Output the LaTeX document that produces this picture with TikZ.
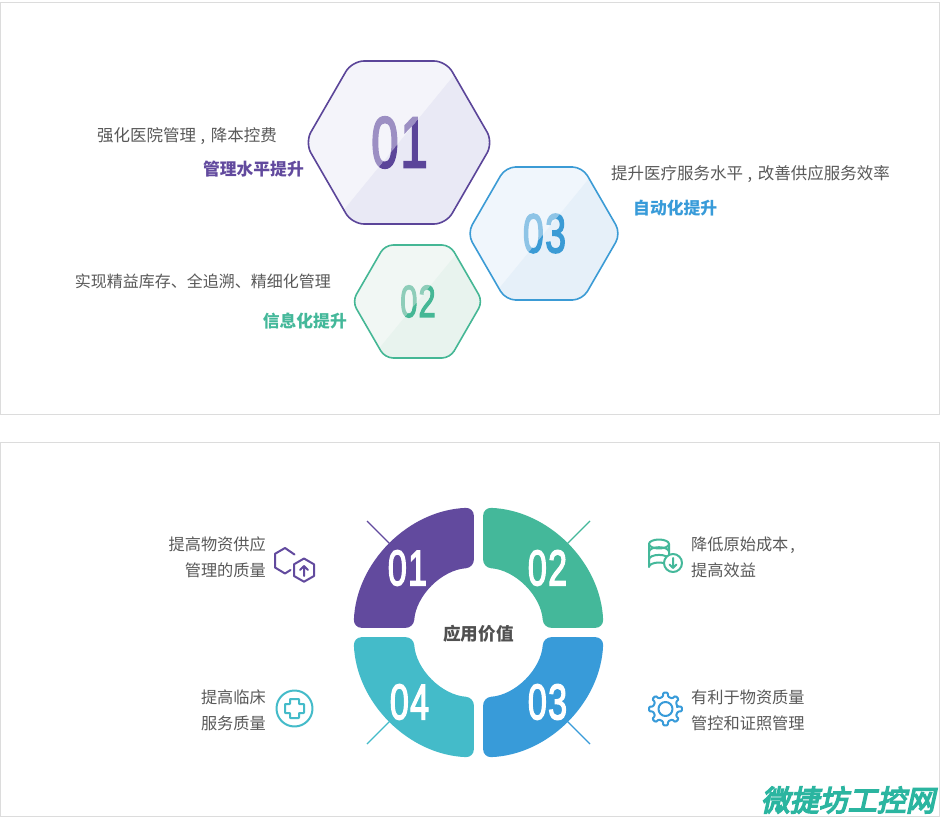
\documentclass[tikz,border=0pt]{standalone}
\usepackage{fontspec}
\newfontfamily\cjk{Noto Sans CJK SC}
\newfontfamily\wmfont[FakeSlant=0.22,FakeBold=5]{Noto Sans CJK SC}
\newfontfamily\numfont[FakeBold=3.2,LetterSpace=4]{Liberation Sans}
\definecolor{textgray}{HTML}{595959}
\definecolor{framegray}{HTML}{DCDCDC}
\definecolor{ringA}{HTML}{624A9E}
\definecolor{ringB}{HTML}{44B89A}
\definecolor{ringC}{HTML}{389BD9}
\definecolor{ringD}{HTML}{44BBC9}
\definecolor{markteal}{HTML}{2BB5A0}
\definecolor{ringAline}{HTML}{5B4599}\definecolor{ringAlight}{HTML}{F4F4FA}\definecolor{ringAdark}{HTML}{E9E9F5}\definecolor{ringAfaint}{HTML}{9C8FC3}
\definecolor{ringBline}{HTML}{45B795}\definecolor{ringBlight}{HTML}{F1F7F4}\definecolor{ringBdark}{HTML}{E8F3EE}\definecolor{ringBfaint}{HTML}{8ECDB9}
\definecolor{ringCline}{HTML}{3B9BD5}\definecolor{ringClight}{HTML}{F0F6FC}\definecolor{ringCdark}{HTML}{E6F0F9}\definecolor{ringCfaint}{HTML}{8EC4E6}
\newcommand{\hexpath}{(\cx,\cy-.866*\rad) -- (\cx+.5*\rad,\cy-.866*\rad) -- (\cx+\rad,\cy) -- (\cx+.5*\rad,\cy+.866*\rad) -- (\cx-.5*\rad,\cy+.866*\rad) -- (\cx-\rad,\cy) -- (\cx-.5*\rad,\cy-.866*\rad) -- cycle}
\newcommand{\midcomma}{\kern4.5pt,\kern5.5pt}
\tikzset{
    body/.style={font=\cjk\fontsize{16.2}{26}\selectfont, text=textgray, inner sep=0pt},
    lead/.style={font=\cjk\fontsize{16.5}{26}\selectfont, text=textgray, inner sep=0pt},
    headline/.style={font=\cjk\bfseries\fontsize{16.8}{20}\selectfont, inner sep=0pt},
    hexnum/.style={font=\numfont\fontsize{#1}{#1}\selectfont, xscale=.68, inner sep=0pt},
    ringnum/.style={font=\numfont\fontsize{50}{50}\selectfont, xscale=.68, text=white, inner sep=0pt},
    icon/.style={line width=2pt, line join=round, line cap=round}
}
\begin{document}
\begin{tikzpicture}[x=1pt, y=-1pt]
    \useasboundingbox (0,0) rectangle (940,821);
    \fill[white] (0,0) rectangle (940,821);
    \draw[framegray, line width=.8pt] (.5,2.5) rectangle (939.5,414.5);
    \draw[framegray, line width=.8pt] (.5,442.5) rectangle (939.5,816.5);

    % upper panel
    \foreach \cx/\cy/\rad/\cor/\n/\num/\size in {399/142.5/94.1/12pt/ringA/01/72, 544/233.5/76.8/10pt/ringC/03/55, 417.5/301.5/65.2/8pt/ringB/02/45}{
        \fill[\n light, rounded corners=\cor] \hexpath;
        \node[hexnum=\size, text=\n faint] (num\n) at (\cx+.5,\cy) {\num};
        \begin{scope}
            \clip (\cx+.9*\rad,\cy-1.1*\rad) -- (\cx+2*\rad,\cy-1.1*\rad) -- (\cx+2*\rad,\cy+1.1*\rad) -- (\cx-.9*\rad,\cy+1.1*\rad) -- cycle;
            \fill[\n dark, rounded corners=\cor] \hexpath;
            \node[hexnum=\size, text=\n line] (numdark\n) at (\cx+.5,\cy) {\num};
        \end{scope}
        \draw[\n line, line width=1.6pt, rounded corners=\cor] \hexpath;
    }
    \node[lead, anchor=east] (texta) at (277,136.5) {强化医院管理\midcomma 降本控费};
    \node[headline, anchor=east, text=ringA] (heada) at (304,169) {管理水平提升};
    \node[body, anchor=east, font=\cjk\fontsize{16}{26}\selectfont] (textb) at (331,281) {实现精益库存、全追溯、精细化管理};
    \node[headline, anchor=east, text=ringB] (headb) at (347,321) {信息化提升};
    \node[lead, anchor=west] (textc) at (611,174.5) {提升医疗服务水平\midcomma 改善供应服务效率};
    \node[headline, anchor=west, text=ringC] (headc) at (633,208) {自动化提升};

    % lower panel
    \foreach \sx/\sy/\n in {-1/-1/ringA, 1/-1/ringB, 1/1/ringC, -1/1/ringD}{
        \begin{scope}[shift={(478.5,632.5)}, xscale=\sx, yscale=\sy]
            \coordinate (rayend\n) at (111.5,111.5);
            \coordinate (raystart\n) at (85,85);
            \draw[\n, line width=1.2pt] (rayend\n) -- (raystart\n);
            \fill[\n, rounded corners=8pt] (96,4.7) -- (2.14:125) arc[start angle=2.14, end angle=87.86, radius=125]
                -- (85.92:65) arc[start angle=85.92, end angle=4.08, radius=65] -- cycle;
        \end{scope}
    }
    \node[ringnum] (numa) at (407.5,568) {01};
    \node[ringnum] (numb) at (547.5,568) {02};
    \node[ringnum] (numc) at (547.5,702) {03};
    \node[ringnum] (numd) at (409.5,702) {04};
    \node[font=\cjk\bfseries\fontsize{17.6}{20}\selectfont, text=textgray!90!black, inner sep=0pt] (center) at (478.5,634) {应用价值};

    \node[body, anchor=east, align=right] (notea) at (266,557) {提高物资供应\\管理的质量};
    \node[body, anchor=east, align=right] (noted) at (266,710) {提高临床\\服务质量};
    \node[body, anchor=west, align=left] (noteb) at (691,557) {降低原始成本\kern2pt,\\提高效益};
    \node[body, anchor=west, align=left] (notec) at (691,710) {有利于物资质量\\管控和证照管理};

    % hexagon icon
    \draw[ringA, icon] (294.5,554.5) -- (285,548) -- (275,553.8) -- (275,567.5) -- (285,573.5) -- (290.5,570);
    \draw[ringA, icon] (304,558.5) -- (314,564.3) -- (314,576) -- (304,581.7) -- (294,576) -- (294,564.3) -- cycle;
    \draw[ringA, icon] (304,576) -- (304,566) (300,570) -- (304,566) -- (308,570);

    % database icon
    \draw[ringB, icon] (649,544) arc[start angle=180, end angle=-180, x radius=10, y radius=4.5];
    \draw[ringB, icon] (649,544) -- (649,567) arc[start angle=180, end angle=360, x radius=10, y radius=4.5] -- (669,544);
    \draw[ringB, icon] (649,551.7) arc[start angle=180, end angle=360, x radius=10, y radius=4.5];
    \draw[ringB, icon] (649,559.4) arc[start angle=180, end angle=360, x radius=10, y radius=4.5];
    \draw[ringB, icon, fill=white] (673,563) circle[radius=9];
    \draw[ringB, icon] (673,558) -- (673,568) (669.5,564.5) -- (673,568) -- (676.5,564.5);

    % gear icon
    \begin{scope}[shift={(665.5,709)}]
        \draw[ringC, icon, rounded corners=1pt] (-11:12) \foreach \a in {0,45,...,315}{ -- (\a-12:12.5) -- (\a-8:16.5) -- (\a+8:16.5) -- (\a+12:12.5)} -- cycle;
        \draw[ringC, icon] (0,0) circle[radius=7];
    \end{scope}

    % cross icon
    \draw[ringD, icon] (294.5,708.5) circle[radius=18];
    \draw[ringD, icon, rounded corners=.5pt] (290,699) -- (299,699) -- (299,704) -- (304,704) -- (304,713) -- (299,713) -- (299,718) -- (290,718) -- (290,713) -- (285,713) -- (285,704) -- (290,704) -- cycle;

    \node[font=\wmfont\fontsize{29}{30}\selectfont, text=markteal, inner sep=0pt, anchor=east] (mark) at (935,800) {微捷坊工控网};
\end{tikzpicture}
\end{document}
